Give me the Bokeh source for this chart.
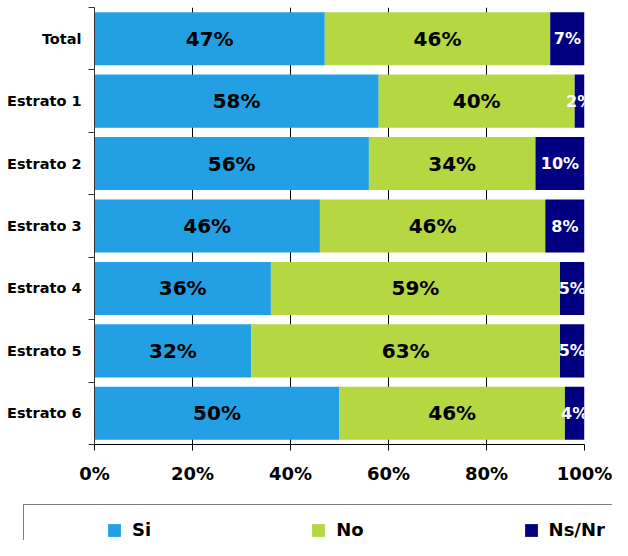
from bokeh.plotting import figure
from bokeh.models import (ColumnDataSource, FixedTicker, PrintfTickFormatter, Legend,
                          LegendItem, Grid, Range1d)
from bokeh.core.properties import value
from bokeh.embed import file_html
from bokeh.resources import INLINE
import numpy as np

# ---- data ----
categories = ["Total", "Estrato 1", "Estrato 2", "Estrato 3", "Estrato 4", "Estrato 5", "Estrato 6"]
si = [47, 58, 56, 46, 36, 32, 50]
no = [46, 40, 34, 46, 59, 63, 46]
nsnr = [7, 2, 10, 8, 5, 5, 4]
series_names = ["Si", "No", "Ns/Nr"]
x_ticks = [0, 20, 40, 60, 80, 100]

colors = ["#22A0E3", "#B4D742", "#000080"]
FONT = "DejaVu Sans"

n = len(categories)
ypos = [n - i - 0.5 for i in range(n)]
si_a = np.array(si, dtype=float)
no_a = np.array(no, dtype=float)
ns_a = np.array(nsnr, dtype=float)

src = ColumnDataSource(dict(
    y=ypos,
    si_l=np.zeros(n), si_r=si_a,
    no_l=si_a, no_r=si_a + no_a,
    ns_l=si_a + no_a, ns_r=si_a + no_a + ns_a,
    si_c=si_a / 2, no_c=si_a + no_a / 2, ns_c=si_a + no_a + ns_a / 2,
    si_t=[f"{v}%" for v in si], no_t=[f"{v}%" for v in no], ns_t=[f"{v}%" for v in nsnr],
))

p = figure(width=612, height=494, x_range=Range1d(0, 100), y_range=Range1d(0, n),
           output_backend="svg", toolbar_location=None,
           min_border_left=94, min_border_right=28, min_border_top=7, min_border_bottom=50)
p.outline_line_color = None
p.background_fill_color = "white"
p.border_fill_color = "white"

p.ygrid.visible = False
p.xgrid.ticker = FixedTicker(ticks=[20, 40, 60, 80])
p.xgrid.grid_line_color = "black"
p.xgrid.grid_line_width = 1
p.add_layout(Grid(dimension=0, ticker=FixedTicker(ticks=[100]), grid_line_color="#808080",
                  grid_line_width=1.5))

bh = 0.85
r_si = p.hbar(y="y", left="si_l", right="si_r", height=bh, fill_color=colors[0], line_color=None, source=src)
r_no = p.hbar(y="y", left="no_l", right="no_r", height=bh, fill_color=colors[1], line_color=None, source=src)
r_ns = p.hbar(y="y", left="ns_l", right="ns_r", height=bh, fill_color=colors[2], line_color=None, source=src)

for xc, tc, col, fs in [("si_c", "si_t", "black", "20px"), ("no_c", "no_t", "black", "20px"),
                        ("ns_c", "ns_t", "white", "16px")]:
    p.text(x=xc, y="y", text=tc, source=src, text_font=value(FONT), text_font_style="bold",
           text_font_size=fs, text_color=col, text_align="center", text_baseline="middle")

# x axis
xa = p.xaxis[0]
xa.ticker = FixedTicker(ticks=x_ticks)
xa.formatter = PrintfTickFormatter(format="%d%%")
xa.major_label_text_font = FONT
xa.major_label_text_font_style = "bold"
xa.major_label_text_font_size = "18px"
xa.major_label_text_color = "black"
xa.major_tick_out = 6
xa.major_tick_in = 0
xa.minor_tick_line_color = None
xa.axis_line_color = "black"
xa.major_tick_line_color = "black"
xa.major_label_standoff = 12

# y axis
ya = p.yaxis[0]
ya.ticker = FixedTicker(ticks=ypos, minor_ticks=list(range(n + 1)))
ya.major_label_overrides = {y: c for y, c in zip(ypos, categories)}
ya.major_label_text_font = FONT
ya.major_label_text_font_style = "bold"
ya.major_label_text_font_size = "14.5px"
ya.major_label_text_color = "black"
ya.major_tick_out = 0
ya.major_tick_in = 0
ya.minor_tick_out = 6
ya.minor_tick_in = 0
ya.minor_tick_line_color = "#333333"
ya.axis_line_color = "#333333"
ya.major_label_standoff = 7

# ---- legend strip (separate root below the chart) ----
# same bars, drawn in a range that keeps them out of view; they only feed the legend swatches
q = figure(width=612, height=46, x_range=Range1d(-200, -100), y_range=Range1d(-20, -10),
           output_backend="svg", toolbar_location=None,
           min_border_left=0, min_border_right=0, min_border_top=0, min_border_bottom=0,
           x_axis_location=None, y_axis_location=None)
q.outline_line_color = None
q.grid.visible = False
q.background_fill_color = "white"
q.border_fill_color = "white"

dummy = q.scatter(x=[], y=[], fill_alpha=0, line_alpha=0)
l_si = q.hbar(y="y", left="si_l", right="si_r", height=bh, fill_color=colors[0], line_color=None, source=src)
l_no = q.hbar(y="y", left="no_l", right="no_r", height=bh, fill_color=colors[1], line_color=None, source=src)
l_ns = q.hbar(y="y", left="ns_l", right="ns_r", height=bh, fill_color=colors[2], line_color=None, source=src)

box = Legend(items=[LegendItem(label=" ", renderers=[dummy])], location=(23, -10),
             padding=12, label_width=700, label_height=20, glyph_height=20,
             border_line_color="black", border_line_width=1.2,
             background_fill_alpha=0)
q.add_layout(box, "center")

legend = Legend(items=[LegendItem(label=series_names[0], renderers=[l_si]),
                       LegendItem(label=series_names[1], renderers=[l_no]),
                       LegendItem(label=series_names[2], renderers=[l_ns])],
                location=(106, 0), orientation="horizontal", padding=0, spacing=159,
                glyph_width=16, glyph_height=16, label_standoff=10, label_width=10,
                label_height=20, label_text_font=FONT, label_text_font_style="bold",
                label_text_font_size="18px", label_text_color="black",
                border_line_alpha=0, background_fill_alpha=0)
q.add_layout(legend, "center")

open("out.html", "w").write(file_html((p, q), INLINE))
